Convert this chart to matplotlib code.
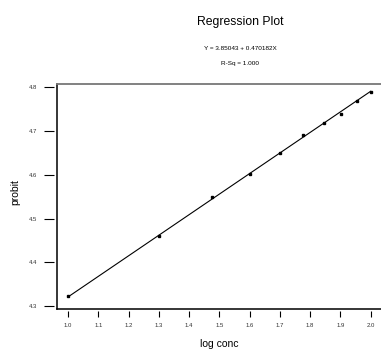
import matplotlib
matplotlib.use("Agg")
import matplotlib.pyplot as plt
import numpy as np

# log10 of concentration vs probit
log_conc = [1.0, 1.301, 1.477, 1.602, 1.699, 1.778, 1.845, 1.903, 1.954, 2.0]
probit = [4.322, 4.461, 4.550, 4.601, 4.650, 4.690, 4.719, 4.739, 4.769, 4.789]
intercept = 3.85043
slope = 0.470182
x_ticks = [1.0, 1.1, 1.2, 1.3, 1.4, 1.5, 1.6, 1.7, 1.8, 1.9, 2.0]
y_ticks = [4.3, 4.4, 4.5, 4.6, 4.7, 4.8]

plt.rcParams['font.family'] = ['Liberation Sans', 'DejaVu Sans']

W, H = 381, 349
fig = plt.figure(figsize=(W / 100, H / 100), dpi=100)
ax = fig.add_axes([56.5 / W, 40 / H, 366.5 / W, 225 / H])

xl = np.array([min(log_conc), max(log_conc)])
ax.plot(xl, intercept + slope * xl, color='black', lw=0.8)
ax.plot(log_conc, probit, 's', color='black', ms=2)

ax.set_xlim(0.962, 2.173)
ax.set_ylim(4.2931, 4.8075)

for s in ax.spines.values():
    s.set_visible(False)
ax.spines['left'].set_position(('outward', 1.5))
ax.spines['bottom'].set_position(('outward', 1.2))

# frame
ax.plot([0, 0], [0, 1], transform=ax.transAxes, color='black', lw=1.1, clip_on=False)
ax.plot([0, 1], [0, 0], transform=ax.transAxes, color='black', lw=1.1, clip_on=False)
ax.plot([0, 1], [1, 1], transform=ax.transAxes, color='#777777', lw=1.3, clip_on=False)

ax.set_xticks(x_ticks)
ax.set_xticklabels(['%.1f' % v for v in x_ticks])
ax.set_yticks(y_ticks)
ax.set_yticklabels(['%.1f' % v for v in y_ticks])
ax.tick_params(axis='y', direction='out', length=7, width=0.8, pad=5.5,
               labelsize=4.3, labelcolor='#333333')
ax.tick_params(axis='x', direction='out', length=4, width=0.8, pad=5,
               labelsize=4.3, labelcolor='#333333')

fig.text(219 / W, 1 - 344 / H, 'log conc', ha='center', va='center', fontsize=7.5)
fig.text(15.5 / W, 1 - 192 / H, 'probit', ha='center', va='center',
         rotation=90, fontsize=7.5)

fig.text(240 / W, 1 - 22 / H, 'Regression Plot', ha='center', va='center', fontsize=8.8)
fig.text(240 / W, 1 - 49 / H, 'Y = 3.85043 + 0.470182X', ha='center', va='center', fontsize=4.6)
fig.text(240 / W, 1 - 63 / H, 'R-Sq = 1.000', ha='center', va='center', fontsize=4.6)

fig.savefig('out.png', dpi=100)
